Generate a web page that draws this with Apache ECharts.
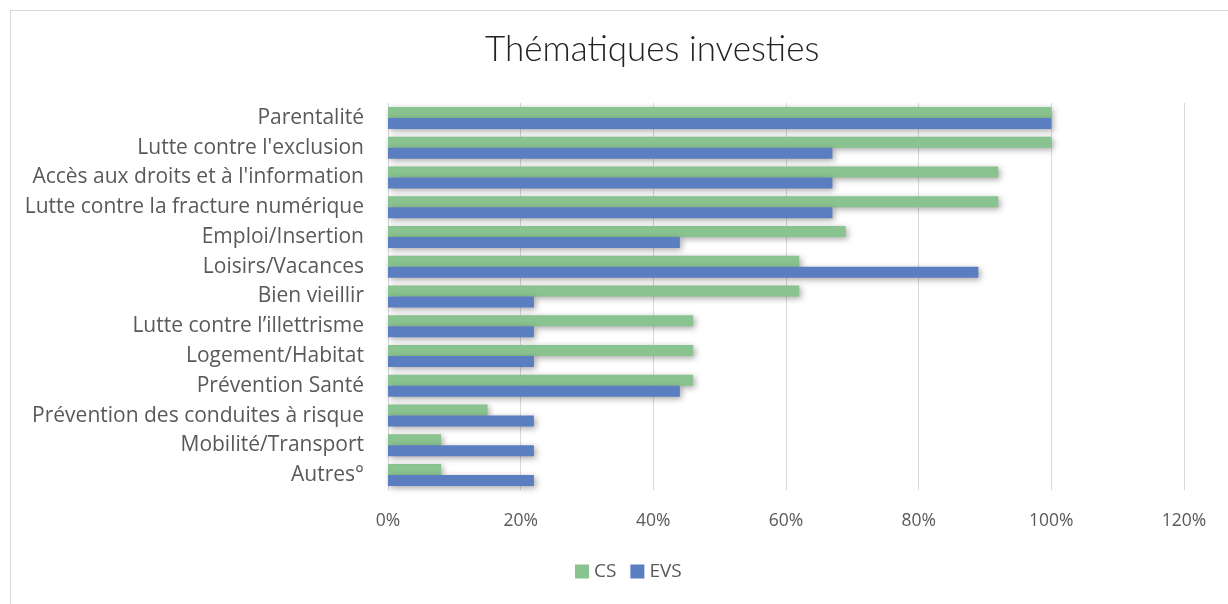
<!DOCTYPE html>
<html>
<head>
<meta charset="utf-8">
<script src="https://cdn.jsdelivr.net/npm/echarts@6/dist/echarts.min.js"></script>
<style>
  html, body {margin: 0; padding: 0; background: #fff;}
  #frame {position: absolute; left: 10px; top: 10px; width: 1230px; height: 600px; border: 1px solid #d9d9d9; box-sizing: border-box;}
  #chart {width: 1228px; height: 604px;}
</style>
</head>
<body>
<div id="frame"></div>
<div id="chart"></div>
<script>
const categories = ['Parentalité', "Lutte contre l'exclusion", "Accès aux droits et à l'information",
  'Lutte contre la fracture numérique', 'Emploi/Insertion', 'Loisirs/Vacances', 'Bien vieillir',
  'Lutte contre l’illettrisme', 'Logement/Habitat', 'Prévention Santé',
  'Prévention des conduites à risque', 'Mobilité/Transport', 'Autres°'];
const csValues = [100, 100, 92, 92, 69, 62, 62, 46, 46, 46, 15, 8, 8];
const evsValues = [100, 67, 67, 67, 44, 89, 22, 22, 22, 44, 22, 22, 22];
const xTicks = [0, 20, 40, 60, 80, 100, 120];

const chart = echarts.init(document.getElementById('chart'));
const shadow = {shadowBlur: 6, shadowColor: 'rgba(0,0,0,0.35)', shadowOffsetX: 2, shadowOffsetY: 2};
chart.setOption({
  animation: false,
  title: {
    text: 'Thématiques investies',
    left: 480, top: 27,
    textStyle: {fontFamily: 'Lato', fontWeight: 300, fontSize: 35, color: '#222'}
  },
  legend: {
    bottom: 18, left: 570,
    itemWidth: 14, itemHeight: 14, itemGap: 14,
    icon: 'rect',
    textStyle: {fontFamily: 'Open Sans', fontSize: 19, color: '#595959'},
    data: ['CS', 'EVS']
  },
  grid: {left: 388, right: 44, top: 103, bottom: 114},
  xAxis: {
    type: 'value', min: xTicks[0], max: xTicks[xTicks.length - 1], interval: 20,
    axisLabel: {formatter: v => v + '%', fontFamily: 'Open Sans', fontSize: 17.5, color: '#595959', margin: 22},
    axisLine: {show: false}, axisTick: {show: false},
    splitLine: {lineStyle: {color: '#d9d9d9', width: 1}}
  },
  yAxis: {
    type: 'category', inverse: true, data: categories,
    axisLabel: {fontFamily: 'Open Sans', fontSize: 21, color: '#595959', margin: 24, padding: [10, 0, 0, 0]},
    axisLine: {lineStyle: {color: '#d9d9d9'}}, axisTick: {show: false}
  },
  series: [
    {name: 'CS', type: 'bar', data: csValues, barWidth: 11, barGap: '0%',
     itemStyle: {color: '#89C38F', ...shadow}},
    {name: 'EVS', type: 'bar', data: evsValues, barWidth: 11, barGap: '0%',
     itemStyle: {color: '#5B7EC1', ...shadow}}
  ]
});
</script>
</body>
</html>
